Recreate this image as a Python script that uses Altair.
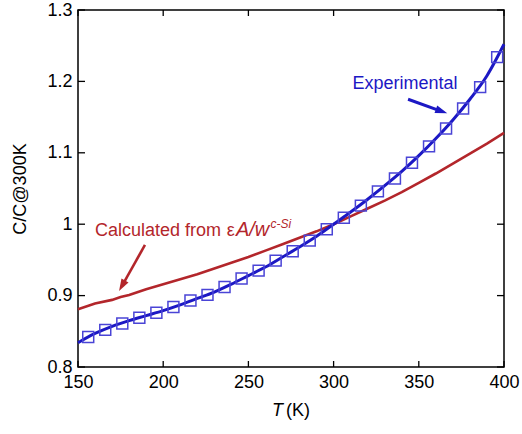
import altair as alt
import pandas as pd
import math

# ---------------- data ----------------
T_exp = [156, 166, 176, 186, 196, 206, 216, 226, 236, 246, 256, 266, 276,
         286, 296, 306, 316, 326, 336, 346, 356, 366, 376, 386, 396]
C_exp = [0.842, 0.852, 0.861, 0.869, 0.876, 0.884, 0.893, 0.901, 0.912,
         0.924, 0.935, 0.949, 0.962, 0.977, 0.993, 1.009, 1.026, 1.046,
         1.064, 1.086, 1.109, 1.134, 1.162, 1.192, 1.234]

T_fit = [150, 160, 170, 180, 190, 200, 210, 220, 230, 240, 250, 260, 270,
         280, 290, 300, 310, 320, 330, 340, 350, 360, 370, 380, 390, 400]
C_fit = [0.834, 0.847, 0.857, 0.865, 0.872, 0.879, 0.887, 0.896, 0.905,
         0.916, 0.928, 0.940, 0.954, 0.968, 0.983, 1.000, 1.017, 1.035,
         1.054, 1.074, 1.096, 1.120, 1.146, 1.175, 1.208, 1.252]

T_calc = [150, 160, 170, 175, 180, 190, 200, 210, 220, 230, 240, 250, 260,
          270, 280, 290, 300, 310, 320, 330, 340, 350, 360, 370, 380, 390, 400]
C_calc = [0.881, 0.889, 0.894, 0.898, 0.901, 0.909, 0.916, 0.923, 0.930,
          0.938, 0.946, 0.954, 0.963, 0.972, 0.981, 0.990, 1.000, 1.011,
          1.022, 1.033, 1.045, 1.058, 1.071, 1.085, 1.099, 1.113, 1.128]

x_ticks = [150, 200, 250, 300, 350, 400]
y_ticks = [0.8, 0.9, 1.0, 1.1, 1.2, 1.3]

# annotation anchors (data coordinates)
exp_label = {"T": 341.9, "C": 1.1887, "text": "Experimental"}
exp_arrow = {"T": 343.7, "C": 1.175, "T2": 366.7, "C2": 1.1553}
calc_arrow = {"T": 189.3, "C": 0.9709, "T2": 174.1, "C2": 0.9064}
calc_parts = [
    {"T": 160.0, "C": 0.9835, "text": "Calculated from", "style": "normal", "size": 18},
    {"T": 237.3, "C": 0.9835, "text": "ε", "style": "normal", "size": 18},
    {"T": 242.7, "C": 0.9835, "text": "A/w", "style": "italic", "size": 20},
    {"T": 263.0, "C": 0.9947, "text": "c-Si", "style": "italic", "size": 12},
]

# ---------------- styling ----------------
FONT = "Liberation Sans"
BLUE_LINE = "#1c18c4"
BLUE_SQ = "#4a44d6"
RED = "#b3262b"
W, H = 426, 357

xs = alt.Scale(domain=[150, 400], nice=False, zero=False)
ys = alt.Scale(domain=[0.8, 1.3], nice=False, zero=False)

xaxis = alt.Axis(values=x_ticks, title=None, ticks=False, tickSize=0, domain=False,
                 grid=False, labelFontSize=18, labelFont=FONT, labelColor="black",
                 labelPadding=6, labelFlush=False, labelOverlap=False)
yaxis = alt.Axis(values=y_ticks, title="C/C@300K", ticks=False, tickSize=0, domain=False,
                 grid=False, labelFontSize=18, labelFont=FONT, labelColor="black",
                 labelPadding=6, labelFlush=False, labelOverlap=False, format=".1~f",
                 titleFont=FONT, titleFontSize=18,
                 titleFontWeight="normal", titleColor="black", titleAngle=-90,
                 titleAlign="center", titleBaseline="middle", titleX=-58, titleY=H / 2)

df_exp = pd.DataFrame({"T": T_exp, "C": C_exp})
df_fit = pd.DataFrame({"T": T_fit, "C": C_fit})
df_calc = pd.DataFrame({"T": T_calc, "C": C_calc})

calc_line = alt.Chart(df_calc).mark_line(color=RED, strokeWidth=2.6).encode(
    x=alt.X("T:Q", scale=xs, axis=xaxis),
    y=alt.Y("C:Q", scale=ys, axis=yaxis),
)
fit_line = alt.Chart(df_fit).mark_line(color=BLUE_LINE, strokeWidth=3,
                                       interpolate="monotone").encode(
    x=alt.X("T:Q", scale=xs), y=alt.Y("C:Q", scale=ys))
squares = alt.Chart(df_exp).mark_point(shape="square", size=120, filled=False,
                                       color=BLUE_SQ, strokeWidth=1.5, opacity=1).encode(
    x=alt.X("T:Q", scale=xs), y=alt.Y("C:Q", scale=ys))

# inward ticks
dxt = pd.DataFrame({"v": x_ticks})
dyt = pd.DataFrame({"v": y_ticks})
tick_b = alt.Chart(dxt).mark_rule(color="black", strokeWidth=1.3).encode(
    x=alt.X("v:Q", scale=xs), y=alt.value(H), y2=alt.value(H - 6))
tick_t = alt.Chart(dxt).mark_rule(color="black", strokeWidth=1.3).encode(
    x=alt.X("v:Q", scale=xs), y=alt.value(0), y2=alt.value(6))
tick_l = alt.Chart(dyt).mark_rule(color="black", strokeWidth=1.3).encode(
    y=alt.Y("v:Q", scale=ys), x=alt.value(0), x2=alt.value(7))
tick_r = alt.Chart(dyt).mark_rule(color="black", strokeWidth=1.3).encode(
    y=alt.Y("v:Q", scale=ys), x=alt.value(W), x2=alt.value(W - 7))


def arrow(a, color, width):
    # shorten the shaft so it ends inside the head
    px = (a["T2"] - a["T"]) * W / 250.0
    py = -(a["C2"] - a["C"]) * H / 0.5
    L = math.hypot(px, py)
    f = max(0.0, (L - 6) / L)
    shaft = pd.DataFrame([{"T": a["T"], "C": a["C"],
                           "T2": a["T"] + (a["T2"] - a["T"]) * f,
                           "C2": a["C"] + (a["C2"] - a["C"]) * f}])
    ang = (math.degrees(math.atan2(py, px)) + 90) % 360
    head = pd.DataFrame([{"T": a["T2"], "C": a["C2"]}])
    r = alt.Chart(shaft).mark_rule(color=color, strokeWidth=width).encode(
        x=alt.X("T:Q", scale=xs), y=alt.Y("C:Q", scale=ys), x2="T2:Q", y2="C2:Q")
    h = alt.Chart(head).mark_point(shape="M0,0L-0.6,1.8L0.6,1.8Z", size=180, filled=True,
                                   color=color, opacity=1, strokeWidth=0,
                                   angle=ang).encode(
        x=alt.X("T:Q", scale=xs), y=alt.Y("C:Q", scale=ys))
    return r + h


exp_text = alt.Chart(pd.DataFrame([exp_label])).mark_text(
    font=FONT, fontSize=18, color=BLUE_LINE, align="center", baseline="alphabetic").encode(
    x=alt.X("T:Q", scale=xs), y=alt.Y("C:Q", scale=ys), text="text:N")

calc_texts = []
for p in calc_parts:
    calc_texts.append(alt.Chart(pd.DataFrame([p])).mark_text(
        font=FONT, fontSize=p["size"], fontStyle=p["style"], color=RED,
        align="left", baseline="alphabetic").encode(
        x=alt.X("T:Q", scale=xs), y=alt.Y("C:Q", scale=ys), text="text:N"))

# x-axis title with italic T
xt_T = alt.Chart(pd.DataFrame([{"t": "T"}])).mark_text(
    font=FONT, fontSize=18, fontStyle="italic", color="black", align="left",
    baseline="alphabetic").encode(x=alt.value(194), y=alt.value(406), text="t:N")
xt_K = alt.Chart(pd.DataFrame([{"t": "(K)"}])).mark_text(
    font=FONT, fontSize=18, color="black", align="left",
    baseline="alphabetic").encode(x=alt.value(208), y=alt.value(406), text="t:N")

chart = alt.layer(
    calc_line, fit_line, squares,
    tick_b, tick_t, tick_l, tick_r,
    arrow(exp_arrow, BLUE_LINE, 3), arrow(calc_arrow, RED, 2.6),
    exp_text, *calc_texts, xt_T, xt_K,
).properties(
    width=W, height=H,
    autosize=alt.AutoSizeParams(type="none"),
    padding={"left": 78, "top": 10, "right": 18, "bottom": 67},
    background="white",
).configure_view(stroke="black", strokeWidth=1.5)

chart.save("out.html", embed_options={"renderer": "svg", "actions": False})
